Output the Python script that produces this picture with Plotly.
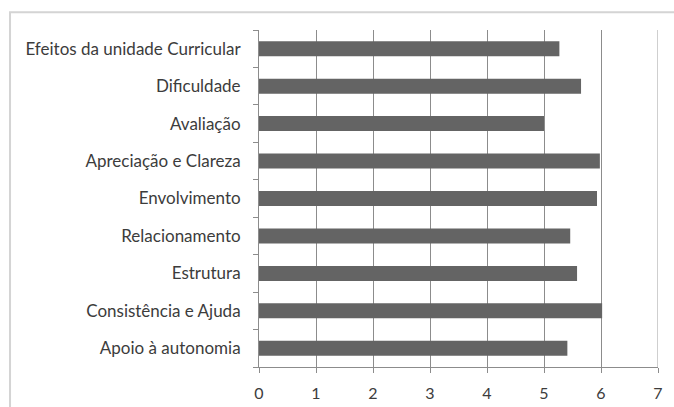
import plotly.graph_objects as go

# Category labels, listed bottom to top as they appear on the axis
categories = [
    "Apoio à autonomia",
    "Consistência e Ajuda",
    "Estrutura",
    "Relacionamento",
    "Envolvimento",
    "Apreciação e Clareza",
    "Avaliação",
    "Dificuldade",
    "Efeitos da unidade Curricular",
]
# Mean score per dimension
scores = [5.41, 6.02, 5.58, 5.46, 5.93, 5.98, 5.00, 5.65, 5.27]
x_ticks = [0, 1, 2, 3, 4, 5, 6, 7]

font_family = "Lato, Open Sans, sans-serif"
text_color = "#3c3c3c"
grid_color = "#8c8c8c"

fig = go.Figure(
    go.Bar(
        x=scores,
        y=categories,
        orientation="h",
        width=0.4,
        marker=dict(color="#646464", line=dict(width=0)),
        hoverinfo="x+y",
    )
)

fig.update_layout(
    width=674,
    height=407,
    margin=dict(l=259, r=16, t=30, b=40, autoexpand=False),
    paper_bgcolor="white",
    plot_bgcolor="white",
    showlegend=False,
    bargap=0.6,
    font=dict(family=font_family, size=17, color=text_color),
)

fig.update_xaxes(
    range=[0, 7],
    tickvals=x_ticks,
    ticktext=[str(v) for v in x_ticks],
    showgrid=True,
    gridcolor=grid_color,
    gridwidth=1,
    zeroline=False,
    showline=True,
    linecolor=grid_color,
    linewidth=1,
    ticks="outside",
    ticklen=5,
    tickcolor=grid_color,
    ticklabelstandoff=7,
    tickfont=dict(size=16, color=text_color),
    automargin=False,
    fixedrange=True,
)

fig.update_yaxes(
    categoryorder="array",
    categoryarray=categories,
    showgrid=False,
    zeroline=False,
    showline=True,
    linecolor=grid_color,
    linewidth=1,
    ticks="outside",
    tickson="boundaries",
    ticklen=5,
    tickcolor=grid_color,
    ticklabelstandoff=14,
    tickfont=dict(size=17, color=text_color),
    automargin=False,
    fixedrange=True,
)

# Lighter right-hand border line at the axis maximum
fig.add_shape(
    type="line",
    xref="x", yref="paper",
    x0=7, x1=7, y0=0, y1=1,
    line=dict(color="#cfcfcf", width=2),
    layer="above",
)

# Outer chart frame (right and bottom edges fall outside the page)
fig.add_shape(
    type="rect",
    xref="paper", yref="paper",
    x0=-0.624, x1=1.08, y0=-0.25, y1=1.053,
    line=dict(color="#d4d4d4", width=2),
    fillcolor="rgba(0,0,0,0)",
    layer="below",
)

fig.write_html("out.html")
